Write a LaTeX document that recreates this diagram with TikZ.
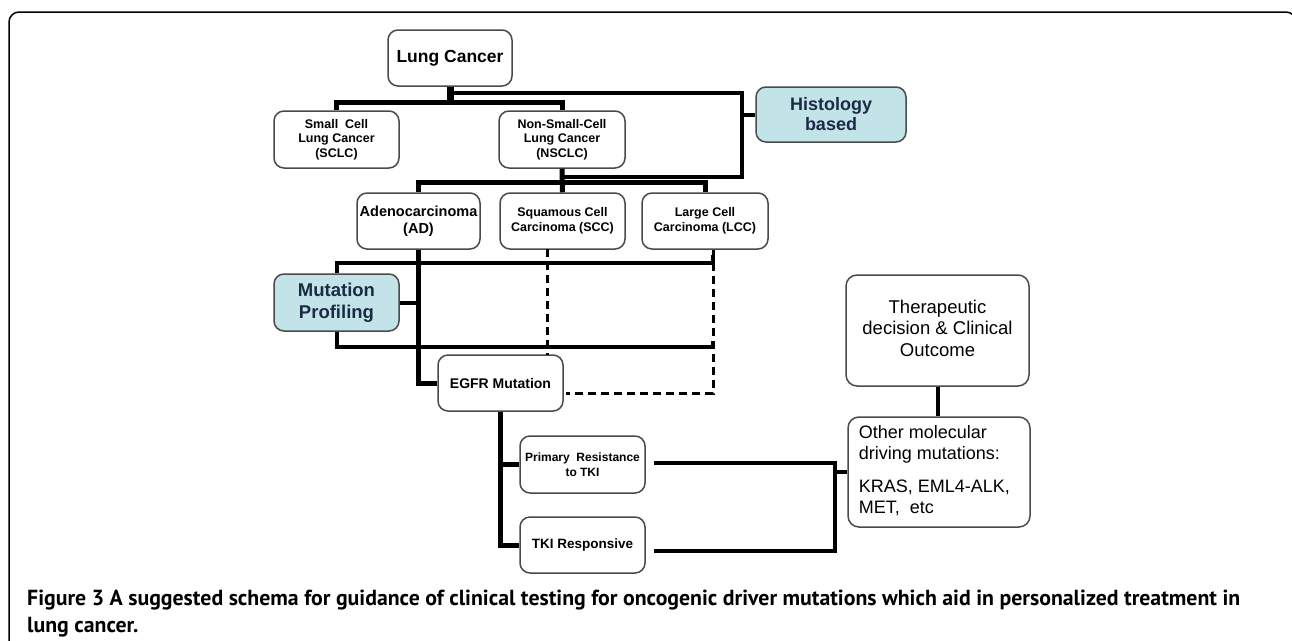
\documentclass[tikz,border=0pt]{standalone}
\usepackage{fontspec}
\setmainfont{Liberation Sans}
\newfontfamily\capfont{PT Sans}
\usetikzlibrary{calc}
\definecolor{boxgray}{HTML}{4A4A4A}
\definecolor{bluefill}{HTML}{C2E3E7}
\definecolor{navy}{HTML}{1C2A48}
\tikzset{
  box/.style={draw=boxgray, line width=1.5pt, rounded corners=10pt, align=center, inner sep=0pt},
  bluebox/.style={box, fill=bluefill, text=navy},
  plainbox/.style={draw=boxgray, line width=1.5pt, rounded corners=11pt, inner sep=0pt},
  conn/.style={line width=5pt},
  thinconn/.style={line width=4pt},
  dashconn/.style={line width=3pt, dash pattern=on 8pt off 5pt},
  fs/.style 2 args={font=\bfseries\fontsize{#1}{#2}\selectfont},
  captext/.style={anchor=base west, inner sep=0pt, font=\capfont\bfseries\fontsize{21.8}{26}\selectfont}
}
\begin{document}
\begin{tikzpicture}[x=1pt,y=-1pt]
\useasboundingbox (0,0) rectangle (1292,640);
% frame
\draw[line width=1.5pt, rounded corners=10pt] (9,660) -- (9,12) -- (1296,12) -- (1296,660);

% nodes
\node[box, minimum width=124pt, minimum height=56pt, fs={17.5}{20}] (lung) at (450,58) {Lung Cancer};
\node[box, minimum width=125pt, minimum height=57pt, fs={12.5}{14.5}] (sclc) at (336.5,139.5) {Small\ \ Cell\\Lung Cancer\\(SCLC)};
\node[box, minimum width=126pt, minimum height=57pt, fs={12.5}{14.5}] (nsclc) at (562,139.5) {Non-Small-Cell\\Lung Cancer\\(NSCLC)};
\node[bluebox, minimum width=150pt, minimum height=55pt, fs={18}{20}] (hist) at (831,114.5) {Histology\\based};
\node[box, minimum width=123pt, minimum height=56pt, fs={14.5}{17}] (ad) at (418.5,221) {Adenocarcinoma\\(AD)};
\node[box, minimum width=125pt, minimum height=56pt, fs={12.5}{15}] (scc) at (562.5,221) {Squamous Cell\\Carcinoma (SCC)};
\node[box, minimum width=126pt, minimum height=56pt, fs={12.5}{15}] (lcc) at (705,221) {Large Cell\\Carcinoma (LCC)};
\node[bluebox, minimum width=125pt, minimum height=57pt, fs={18.5}{22}] (mut) at (336.5,302.5) {Mutation\\Profiling};
\node[box, minimum width=125pt, minimum height=56pt, fs={14}{16}] (egfr) at (500.5,383) {EGFR Mutation};
\node[box, minimum width=125pt, minimum height=57pt, fs={12}{15}] (prim) at (582.5,464.5) {Primary\ \ Resistance\\to TKI};
\node[box, minimum width=125pt, minimum height=56pt, fs={13.5}{16}] (tki) at (582.5,545) {TKI Responsive};
\node[plainbox, minimum width=183pt, minimum height=111pt] (ther) at (937.5,330.5) {};
\node[align=center, font=\fontsize{18.5}{21.5}\selectfont, anchor=north] (thertxt) at ($(ther.north)+(0,22)$) {Therapeutic\\decision \& Clinical\\Outcome};
\node[plainbox, minimum width=182pt, minimum height=110pt] (other) at (939,472) {};
\node[align=left, font=\fontsize{18}{21}\selectfont, anchor=north west] (othertxt) at ($(other.north west)+(8,6)$) {Other molecular\\driving mutations:\\[12pt]KRAS, EML4-ALK,\\MET,\ \ etc};

% coordinates
\coordinate (hbr) at (742,93);
\coordinate (htop) at (lung.south |- hbr);
\coordinate (hbot) at (742,177);
\coordinate (ntop) at (nsclc.south |- hbot);
\coordinate (lcctick) at (713,255);
\coordinate (lccd) at (713,250);
\coordinate (brk) at (835,500);

% tree top
\draw[line width=7pt] (lung.south) -- ($(lung.south)+(0,18)$);
\draw[conn] (sclc.north) -- ++(0,-8) -| (nsclc.north);
\draw[thinconn] (htop) -| (hbot) -- (ntop);
\draw[thinconn] (hbr |- hist.west) -- (hist.west);
\draw[conn] (nsclc.south) -- (scc.north);
\draw[conn] (ad.north) -- ++(0,-10) -| (lcc.north);

% mutation profiling
\draw[conn] (ad.south) |- (egfr.west);
\draw[thinconn] (mut.east) -- (ad.south |- mut.east);
\draw[thinconn] (mut.north) -- ++(0,-10) -| (lcctick);
\draw[thinconn] (mut.south) -- ++(0,15) -| ($(lcctick)+(0,86)$);
\draw[dashconn] (lccd) |- ($(egfr.east)+(2,10)$);
\draw[dashconn] (547,249) -- (547,355);

% EGFR branches
\draw[conn] (egfr.south) |- (tki.west);
\draw[conn] (egfr.south |- prim.west) -- (prim.west);
\draw[thinconn] ($(prim.east)+(8,-1.5)$) -| (brk) |- ($(tki.east)+(8,6)$);
\draw[thinconn] (brk |- other.west) -- (other.west);
\draw[line width=4pt] (ther.south) -- (ther.south |- other.north);

% caption
\node[captext] (cap1) at (27,605) {Figure 3 A suggested schema for guidance of clinical testing for oncogenic driver mutations which aid in personalized treatment in};
\node[captext] (cap2) at (27,632) {lung cancer.};
\end{tikzpicture}
\end{document}
